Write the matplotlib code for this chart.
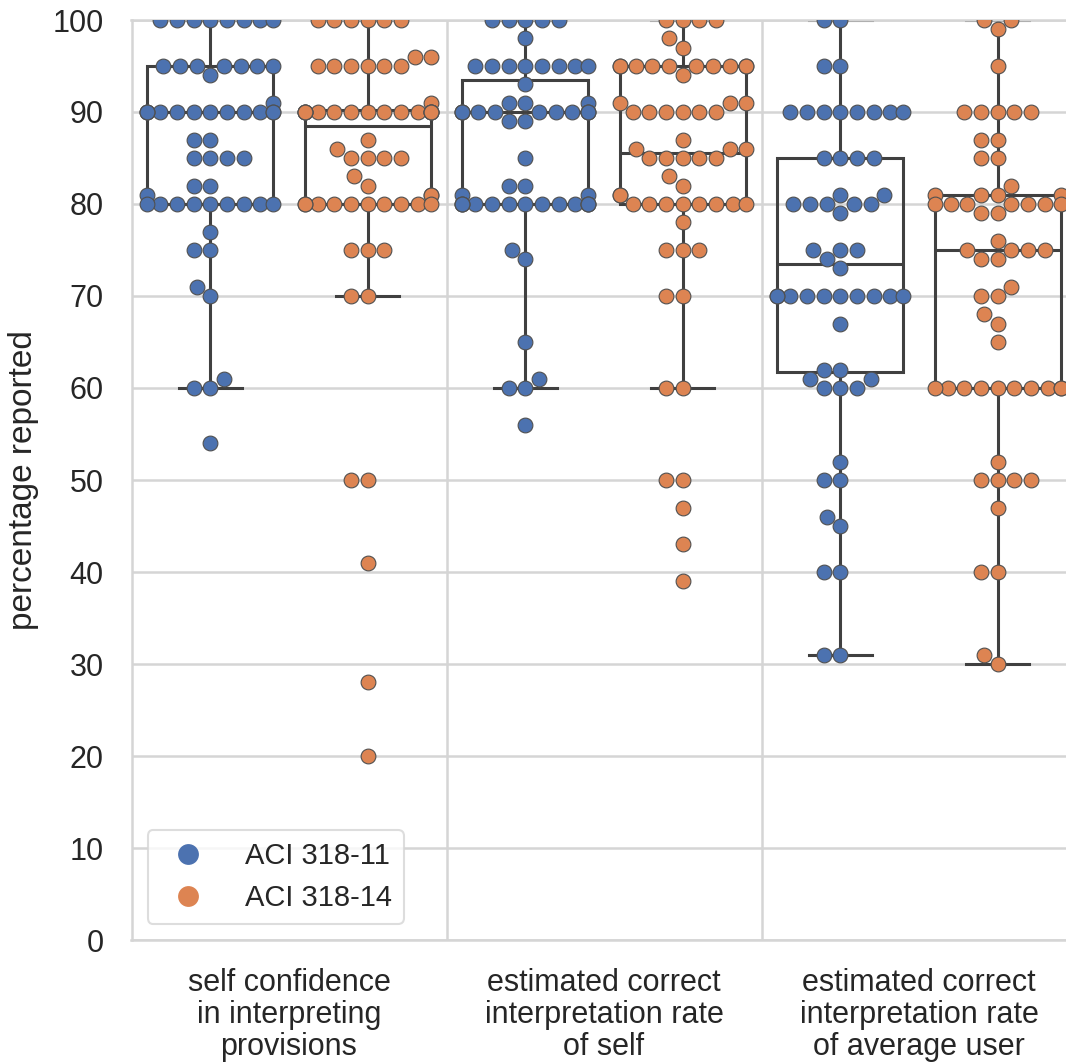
import numpy as np
import matplotlib
matplotlib.use("Agg")
import matplotlib.pyplot as plt
from matplotlib.lines import Line2D

plt.rcParams["font.family"] = ["Liberation Sans", "DejaVu Sans"]

categories = [
    "self confidence\nin interpreting\nprovisions",
    "estimated correct\ninterpretation rate\nof self",
    "estimated correct\ninterpretation rate\nof average user",
]
versions = ["ACI 318-11", "ACI 318-14"]
colors = ["#4C72B0", "#DD8452"]

# reported percentages and how many respondents gave each one
conf_11_vals = [100, 95, 94, 91, 90, 87, 85, 82, 81, 80, 77, 75, 71, 70, 61, 60, 54]
conf_11_counts = [8, 7, 1, 1, 12, 2, 4, 2, 1, 9, 1, 2, 1, 1, 1, 2, 1]
conf_14_vals = [100, 96, 95, 91, 90, 87, 86, 85, 83, 82, 81, 80, 75, 70, 50, 41, 28, 20]
conf_14_counts = [6, 2, 6, 1, 15, 1, 1, 4, 1, 1, 2, 10, 3, 2, 2, 1, 1, 1]

self_11_vals = [100, 98, 95, 93, 91, 90, 89, 85, 82, 81, 80, 75, 74, 65, 61, 60, 56]
self_11_counts = [5, 1, 8, 1, 3, 11, 2, 1, 2, 2, 13, 1, 1, 1, 1, 2, 1]
self_14_vals = [100, 98, 97, 95, 94, 91, 90, 87, 86, 85, 83, 82, 81, 80, 78, 75, 70, 60,
                50, 47, 43, 39]
self_14_counts = [4, 1, 1, 10, 1, 3, 6, 1, 3, 5, 1, 1, 2, 8, 1, 3, 2, 2, 2, 1, 1, 1]

avg_11_vals = [100, 95, 90, 85, 81, 80, 79, 75, 74, 73, 70, 67, 62, 61, 60, 52, 50, 46,
               45, 40, 31]
avg_11_counts = [2, 2, 8, 4, 2, 5, 1, 3, 1, 1, 10, 1, 2, 2, 3, 1, 2, 1, 1, 2, 2]
avg_14_vals = [100, 99, 95, 90, 87, 85, 82, 81, 80, 79, 76, 75, 74, 71, 70, 68, 67, 65,
               60, 52, 50, 47, 40, 31, 30]
avg_14_counts = [2, 1, 1, 5, 2, 2, 1, 4, 7, 2, 1, 4, 2, 1, 2, 1, 1, 1, 10, 1, 4, 1, 2, 1, 1]

groups = [
    [(conf_11_vals, conf_11_counts), (conf_14_vals, conf_14_counts)],
    [(self_11_vals, self_11_counts), (self_14_vals, self_14_counts)],
    [(avg_11_vals, avg_11_counts), (avg_14_vals, avg_14_counts)],
]

W, H, DPI = 1066, 1063, 100
fig = plt.figure(figsize=(W / DPI, H / DPI), dpi=DPI)
ax = fig.add_axes([131.5 / W, (H - 940) / H, 945 / W, 920 / H])
ax.set_xlim(-0.5, 2.5)
ax.set_ylim(0, 100)

grid_color = "#d5d5d5"
box_color = "#404040"
ax.set_axisbelow(True)
ax.yaxis.grid(True, color=grid_color, linewidth=1.8)
ax.set_xticks([0.5, 1.5], minor=True)
ax.xaxis.grid(True, which="minor", color=grid_color, linewidth=1.8)
for sp in ax.spines.values():
    sp.set_color(grid_color)
    sp.set_linewidth(1.8)

MS = 113            # marker area, pt^2
EDGE = 0.8
radius_px = (np.sqrt(MS) + EDGE) / 2 * DPI / 72


def swarm_offsets(center, values, half_width):
    """Beeswarm layout in display space, points placed from low to high value."""
    pts = ax.transData.transform(np.column_stack([np.full(len(values), center), values]))
    x0 = pts[0, 0]
    px_per_unit = ax.transData.transform((center + 1, 0))[0] - x0
    order = np.argsort(values, kind="stable")
    sep2 = (2 * radius_px) ** 2
    placed = []
    xs = np.empty(len(values))
    for i in order:
        y = pts[i, 1]
        neighbors = []
        for px, py in reversed(placed):
            if y - py < 2 * radius_px:
                neighbors.append((px, py))
            else:
                break
        cands = [x0]
        left_first = True
        for px, py in neighbors:
            dx = np.sqrt(max(sep2 - (y - py) ** 2, 0)) * 1.05
            cands += [px - dx, px + dx] if left_first else [px + dx, px - dx]
            left_first = not left_first
        cands = np.array(cands)
        cands = cands[np.argsort(np.abs(cands - x0), kind="stable")]
        pick = cands[-1]
        for c in cands:
            if all((c - px) ** 2 + (y - py) ** 2 >= sep2 for px, py in neighbors):
                pick = c
                break
        placed.append((pick, y))
        xs[i] = pick
    xd = center + (xs - x0) / px_per_unit
    return np.clip(xd, center - half_width, center + half_width)


for i, pair in enumerate(groups):
    for h, (vals, counts) in enumerate(pair):
        data = np.repeat(vals, counts).astype(float)
        pos = i + (h - 0.5) * 0.5
        ax.boxplot(
            data, positions=[pos], widths=0.4, showfliers=False, manage_ticks=False,
            patch_artist=True,
            boxprops=dict(facecolor="none", edgecolor=box_color, linewidth=2.2),
            whiskerprops=dict(color=box_color, linewidth=2.2),
            capprops=dict(color=box_color, linewidth=2.2),
            medianprops=dict(color=box_color, linewidth=2.2),
            zorder=2,
        )
        xs = swarm_offsets(pos, data, 0.2)
        ax.scatter(xs, data, s=MS, color=colors[h], edgecolor="#505050",
                   linewidth=EDGE, zorder=3)

ax.set_xticks([0, 1, 2])
ax.set_xticklabels(categories, fontsize=22, linespacing=1.1)
ax.set_yticks(np.arange(0, 101, 10))
ax.tick_params(axis="both", which="both", length=0, labelsize=22, pad=20,
               labelcolor="#262626")
ax.set_ylabel("percentage reported", fontsize=24, labelpad=10, color="#262626")

handles = [Line2D([], [], marker="o", linestyle="none", markersize=15,
                  markerfacecolor=c, markeredgecolor="none") for c in colors]
leg = ax.legend(handles, versions, loc="lower left", fontsize=21, frameon=True,
                borderaxespad=0.55, handletextpad=0.95, labelspacing=0.5)
leg.get_frame().set_edgecolor(grid_color)
leg.get_frame().set_linewidth(1.5)
for t in leg.get_texts():
    t.set_color("#262626")

fig.savefig("out.png", dpi=DPI)
